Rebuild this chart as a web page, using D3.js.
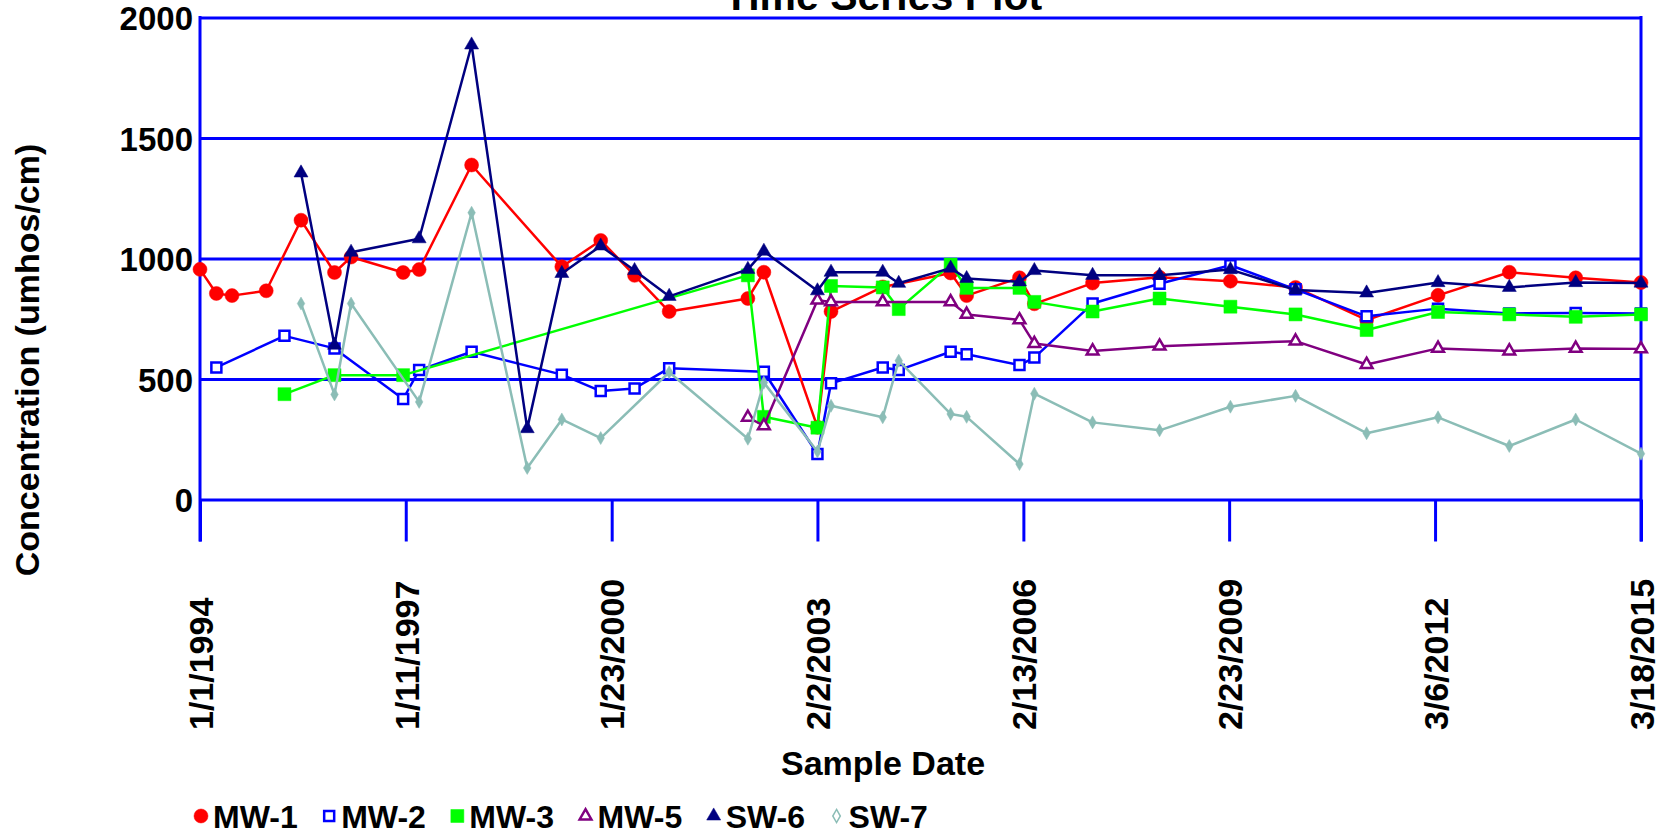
<!DOCTYPE html>
<html>
<head>
<meta charset="utf-8">
<script src="https://cdn.jsdelivr.net/npm/d3@7"></script>
<style>
  html, body { margin: 0; padding: 0; background: #ffffff; }
  svg { display: block; }
  text { font-family: "Liberation Sans", Arial, Helvetica, sans-serif; font-weight: bold; fill: #000; }
</style>
</head>
<body>
<svg id="chart" width="1665" height="835"></svg>
<script>
// ---- Sample data: specific conductance by well, umhos/cm ----
const mw1Dates = ["1994-01-01","1994-03-30","1994-06-22","1994-12-23","1995-06-28","1995-12-25","1996-03-23","1996-12-28","1997-03-24","1997-12-31","1999-04-30","1999-11-25","2000-05-25","2000-11-27","2002-01-24","2002-04-20","2003-02-02","2003-04-16","2004-01-19","2005-01-18","2005-04-14","2006-01-23","2006-04-13","2007-02-20","2008-02-15","2009-03-02","2010-02-15","2011-03-04","2012-03-22","2013-04-09","2014-04-01","2015-03-18"];
const mw1Values = [955,855,846,866,1159,942,1006,942,954,1388,966,1075,930,780,834,943,300,780,882,940,846,920,812,898,922,906,880,745,847,943,920,900];

const mw2Dates = ["1994-03-30","1995-03-31","1995-12-25","1996-12-28","1997-03-24","1997-12-31","1999-04-30","1999-11-25","2000-05-25","2000-11-27","2002-04-20","2003-02-02","2003-04-16","2004-01-19","2004-04-14","2005-01-18","2005-04-14","2006-01-23","2006-04-13","2007-02-20","2008-02-15","2009-03-02","2010-02-15","2011-03-04","2012-03-22","2013-04-09","2014-04-01","2015-03-18"];
const mw2Values = [548,679,627,417,537,613,518,450,461,545,530,189,482,548,537,613,603,558,589,813,895,972,872,760,792,772,774,772];

const mw3Dates = ["1995-03-31","1995-12-25","1996-12-28","2002-01-24","2002-04-20","2003-02-02","2003-04-16","2004-01-19","2004-04-14","2005-01-18","2005-04-14","2006-01-23","2006-04-13","2007-02-20","2008-02-15","2009-03-02","2010-02-15","2011-03-04","2012-03-22","2013-04-09","2014-04-01","2015-03-18"];
const mw3Values = [437,516,516,930,343,298,886,880,790,975,878,878,820,780,834,800,768,703,778,768,758,768];

const mw5Dates = ["2002-01-24","2002-04-20","2003-02-02","2003-04-16","2004-01-19","2005-01-18","2005-04-14","2006-01-23","2006-04-13","2007-02-20","2008-02-15","2010-02-15","2011-03-04","2012-03-22","2013-04-09","2014-04-01","2015-03-18"];
const mw5Values = [341,306,827,820,820,820,768,745,647,616,636,657,560,627,616,627,625];

const sw6Dates = ["1995-06-28","1995-12-25","1996-03-23","1997-03-24","1997-12-31","1998-10-26","1999-04-30","1999-11-25","2000-05-25","2000-11-27","2002-01-24","2002-04-20","2003-02-02","2003-04-16","2004-01-19","2004-04-14","2005-01-18","2005-04-14","2006-01-23","2006-04-13","2007-02-20","2008-02-15","2009-03-02","2010-02-15","2011-03-04","2012-03-22","2013-04-09","2014-04-01","2015-03-18"];
const sw6Values = [1355,640,1026,1082,1886,294,938,1052,950,843,955,1030,866,943,943,897,960,917,903,950,930,930,954,869,857,900,880,900,898];

const sw7Dates = ["1995-06-28","1995-12-25","1996-03-23","1997-03-24","1997-12-31","1998-10-26","1999-04-30","1999-11-25","2000-11-27","2002-01-24","2002-04-20","2003-02-02","2003-04-16","2004-01-19","2004-04-14","2005-01-18","2005-04-14","2006-01-23","2006-04-13","2007-02-20","2008-02-15","2009-03-02","2010-02-15","2011-03-04","2012-03-22","2013-04-09","2014-04-01","2015-03-18"];
const sw7Values = [813,436,813,405,1190,131,332,255,528,252,485,199,389,341,576,355,343,147,439,320,287,385,430,275,341,222,332,190];

const seriesNames = ["MW-1","MW-2","MW-3","MW-5","SW-6","SW-7"];
const xTickLabels = ["1/1/1994","1/11/1997","1/23/2000","2/2/2003","2/13/2006","2/23/2009","3/6/2012","3/18/2015"];
const yTickValues = [0, 500, 1000, 1500, 2000];

// ---- Styling per series ----
const styles = {
  "MW-1": { color: "#ff0000", symbol: d3.symbolCircle,   size: 154, fill: true },
  "MW-2": { color: "#0000ff", symbol: d3.symbolSquare,   size: 100, fill: false },
  "MW-3": { color: "#00ff00", symbol: d3.symbolSquare,   size: 169, fill: true },
  "MW-5": { color: "#800080", symbol: d3.symbolTriangle, size: 60,  fill: false },
  "SW-6": { color: "#000080", symbol: d3.symbolTriangle, size: 85,  fill: true },
  "SW-7": { color: "#8bbdb6", symbol: d3.symbolDiamond,  size: 49,  fill: true }
};

const parseISO = d3.timeParse("%Y-%m-%d");
const parseMDY = s => { const [m, d, y] = s.split("/").map(Number); return new Date(y, m - 1, d); };
const zip = (ds, vs) => ds.map((d, i) => ({ date: parseISO(d), value: vs[i] }));

const series = [
  { name: "MW-1", points: zip(mw1Dates, mw1Values) },
  { name: "MW-2", points: zip(mw2Dates, mw2Values) },
  { name: "MW-3", points: zip(mw3Dates, mw3Values) },
  { name: "MW-5", points: zip(mw5Dates, mw5Values) },
  { name: "SW-6", points: zip(sw6Dates, sw6Values) },
  { name: "SW-7", points: zip(sw7Dates, sw7Values) }
];
const tickDates = xTickLabels.map(parseMDY);

// ---- Layout ----
const plot = { left: 200, right: 1641, top: 17.5, bottom: 499.5 };
const tickLen = 42;
const gridBlue = "#0000ff";

const svg = d3.select("#chart");

const x = d3.scaleTime()
  .domain([tickDates[0], tickDates[tickDates.length - 1]])
  .range([plot.left, plot.right]);
const y = d3.scaleLinear()
  .domain([0, 2000])
  .range([plot.bottom, plot.top]);

// Horizontal gridlines + y tick labels
const yAxis = svg.append("g")
  .attr("transform", `translate(${plot.left},0)`)
  .call(d3.axisLeft(y).tickValues(yTickValues).tickFormat(d3.format("d"))
    .tickSize(-(plot.right - plot.left)).tickSizeOuter(0).tickPadding(7));
yAxis.select(".domain").remove();
yAxis.selectAll(".tick line").attr("stroke", gridBlue).attr("stroke-width", 3);
yAxis.selectAll(".tick text")
  .attr("x", -7).attr("dy", "0.37em")
  .style("font-size", "33px").style("font-family", "Liberation Sans, Arial, sans-serif").style("font-weight", "bold").attr("fill", "#000");

// Date ticks below the zero line
const xAxis = svg.append("g")
  .attr("transform", `translate(0,${plot.bottom})`)
  .call(d3.axisBottom(x).tickValues(tickDates).tickSize(tickLen).tickSizeOuter(0)
    .tickFormat((d, i) => xTickLabels[i]));
xAxis.select(".domain").remove();
xAxis.selectAll(".tick line").attr("stroke", gridBlue).attr("stroke-width", 3);
xAxis.selectAll(".tick text")
  .attr("transform", `translate(0,${730 - plot.bottom}) rotate(-90)`)
  .attr("x", 0).attr("y", 0).attr("dy", "0.36em")
  .attr("text-anchor", "start")
  .style("font-size", "34px").style("font-family", "Liberation Sans, Arial, sans-serif").style("font-weight", "bold").attr("fill", "#000");

// Side frame lines (run down to the tick length)
svg.append("g").selectAll("line")
  .data([plot.left, plot.right])
  .join("line")
  .attr("x1", d => d).attr("x2", d => d)
  .attr("y1", plot.top - 1.5).attr("y2", plot.bottom + tickLen)
  .attr("stroke", gridBlue).attr("stroke-width", 3);

// Series lines and markers
const line = d3.line().x(d => x(d.date)).y(d => y(d.value));
const symbolPath = (st) => d3.symbol().type(st.symbol).size(st.size)();

series.forEach(s => {
  const st = styles[s.name];
  const g = svg.append("g").attr("class", "series");
  g.append("path")
    .datum(s.points)
    .attr("d", line)
    .attr("fill", "none")
    .attr("stroke", st.color)
    .attr("stroke-width", 2.5)
    .attr("stroke-linejoin", "round");
  g.selectAll("path.mark")
    .data(s.points)
    .join("path")
    .attr("class", "mark")
    .attr("d", symbolPath(st))
    .attr("transform", d => `translate(${x(d.date)},${y(d.value)})`)
    .attr("fill", st.fill ? st.color : "#ffffff")
    .attr("stroke", st.color)
    .attr("stroke-width", st.fill ? 0.5 : 2.5);
});

// Titles (the chart title sits at the very top edge)
svg.append("text")
  .attr("x", 883).attr("y", 10)
  .attr("text-anchor", "middle")
  .style("font-size", "41px")
  .text("Time Series Plot");

svg.append("text")
  .attr("x", 883).attr("y", 775)
  .attr("text-anchor", "middle")
  .style("font-size", "34px")
  .text("Sample Date");

svg.append("text")
  .attr("transform", "translate(39,360) rotate(-90)")
  .attr("text-anchor", "middle")
  .style("font-size", "34px")
  .text("Concentration (umhos/cm)");

// Legend: marker followed by its label, laid out left to right
const legend = svg.append("g").attr("class", "legend");
let cursor = 201;
const legendY = 816;
seriesNames.forEach(name => {
  const st = styles[name];
  const isDiamond = name === "SW-7";
  legend.append("path")
    .attr("d", symbolPath(st))
    .attr("transform", `translate(${cursor},${legendY})`)
    .attr("fill", (st.fill && !isDiamond) ? st.color : "#ffffff")
    .attr("stroke", st.color)
    .attr("stroke-width", isDiamond ? 1.5 : (st.fill ? 0.5 : 2.5));
  const t = legend.append("text")
    .attr("x", cursor + 12).attr("y", legendY + 12)
    .style("font-size", "32px")
    .text(name);
  cursor = cursor + 12 + t.node().getComputedTextLength() + 31.5;
});
</script>
</body>
</html>
